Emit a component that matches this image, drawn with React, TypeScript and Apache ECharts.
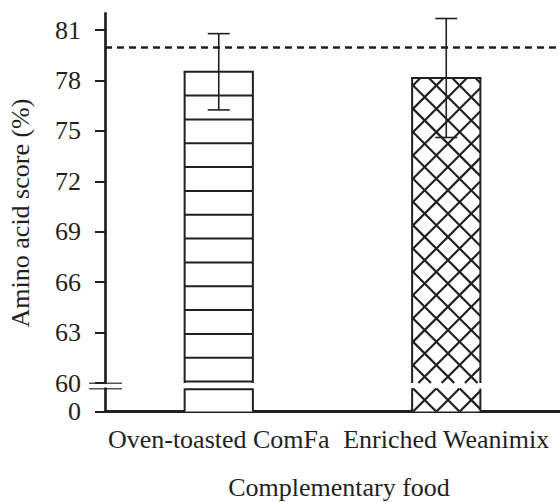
import React, { useEffect, useRef } from 'react';
import * as echarts from 'echarts';

const CATEGORIES = ['Oven-toasted ComFa', 'Enriched Weanimix'];
const MEANS = [78.52, 78.15];
const ERRORS = [2.27, 3.54];
const PATTERNS = ['horizontal', 'crosshatch'];
const REFERENCE_LINE = 80;
const UPPER_TICKS = [60, 63, 66, 69, 72, 75, 78, 81];
const LOWER_TICKS = [0];
const UPPER_MIN = 60;
const UPPER_MAX = 82;
const LOWER_MIN = 0;
const LOWER_MAX = 60;
const Y_NAME = 'Amino acid score (%)';
const X_NAME = 'Complementary food';

const INK = '#231f20';
const FONT = "'Liberation Serif', 'Times New Roman', Times, 'DejaVu Serif', serif";
const FS = 26;
const HSTEP = 23.83;
const DSTEP = 23.3;

function ln(x1: number, y1: number, x2: number, y2: number, w = 2) {
  return { type: 'line', shape: { x1, y1, x2, y2 }, style: { stroke: INK, lineWidth: w } };
}

const renderBar = (segment: 'upper' | 'lower') => (params: any, api: any) => {
  const idx = api.value(0);
  const val = api.value(1);
  const kind = PATTERNS[idx];
  const cs = params.coordSys;
  const base = segment === 'upper' ? UPPER_MIN : LOWER_MIN;
  const top = api.coord([idx, val]);
  const bot = api.coord([idx, base]);
  const w = api.size([1, 0])[0] * 0.3;
  const xc = top[0];
  const x0 = xc - w / 2;
  const x1 = xc + w / 2;
  const clamped = top[1] < cs.y;
  const y0 = clamped ? cs.y : top[1];
  const y1 = bot[1];
  const children: any[] = [];
  children.push({ type: 'rect', shape: { x: x0, y: y0, width: w, height: y1 - y0 }, style: { fill: '#fff' } });
  if (kind === 'horizontal') {
    const start = clamped ? y0 + 0.8 : y0 + HSTEP;
    for (let y = start; y <= y1 + 0.5; y += HSTEP) children.push(ln(x0, y, x1, y));
  } else {
    const ax = xc + 1.7;
    const ay = 400;
    const cA0 = ax - ay;
    const cB0 = ax + ay;
    const kA0 = Math.ceil((x0 - y1 - cA0) / DSTEP);
    const kA1 = Math.floor((x1 - y0 - cA0) / DSTEP);
    for (let k = kA0; k <= kA1; k++) {
      const c = cA0 + k * DSTEP;
      const xs = Math.max(x0, y0 + c);
      const xe = Math.min(x1, y1 + c);
      if (xe > xs) children.push(ln(xs, xs - c, xe, xe - c, 2.2));
    }
    const kB0 = Math.ceil((x0 + y0 - cB0) / DSTEP);
    const kB1 = Math.floor((x1 + y1 - cB0) / DSTEP);
    for (let k = kB0; k <= kB1; k++) {
      const c = cB0 + k * DSTEP;
      const xs = Math.max(x0, c - y1);
      const xe = Math.min(x1, c - y0);
      if (xe > xs) children.push(ln(xs, c - xs, xe, c - xe, 2.2));
    }
  }
  children.push(ln(x0, y0, x0, y1), ln(x1, y0, x1, y1));
  if (!clamped) children.push(ln(x0 - 1, y0, x1 + 1, y0));
  return { type: 'group', children };
};

const renderError = (_params: any, api: any) => {
  const idx = api.value(0);
  const m = api.value(1);
  const e = api.value(2);
  const hi = api.coord([idx, m + e]);
  const lo = api.coord([idx, m - e]);
  const cap = 11;
  return {
    type: 'group',
    children: [
      ln(hi[0], hi[1], lo[0], lo[1], 1.6),
      ln(hi[0] - cap, hi[1], hi[0] + cap, hi[1], 1.6),
      ln(lo[0] - cap, lo[1], lo[0] + cap, lo[1], 1.6),
    ],
  };
};

const labelStyle = { fontFamily: FONT, fontSize: FS, color: INK };

export default function App() {
  const ref = useRef<HTMLDivElement>(null);
  useEffect(() => {
    if (!ref.current) return;
    const chart = echarts.init(ref.current, undefined, { renderer: 'svg' });
    const barData = CATEGORIES.map((_, i) => [i, MEANS[i]]);
    const errData = CATEGORIES.map((_, i) => [i, MEANS[i], ERRORS[i]]);
    chart.setOption({
      animation: false,
      backgroundColor: '#fff',
      textStyle: { fontFamily: FONT },
      grid: [
        { left: 105, right: 0, top: 13.3, bottom: 119, outerBoundsMode: 'none', containLabel: false },
        { left: 105, right: 0, top: 388.5, bottom: 90.5, outerBoundsMode: 'none', containLabel: false },
      ],
      xAxis: [
        { type: 'category', gridIndex: 0, data: CATEGORIES, show: false },
        {
          type: 'category',
          gridIndex: 1,
          data: CATEGORIES,
          axisLine: { show: true, lineStyle: { color: INK, width: 3 } },
          axisTick: { show: false },
          axisLabel: { ...labelStyle, margin: 15, interval: 0 },
          splitLine: { show: false },
        },
      ],
      yAxis: [
        {
          type: 'value',
          gridIndex: 0,
          min: UPPER_MIN,
          max: UPPER_MAX,
          interval: 3,
          axisLine: { show: true, lineStyle: { color: INK, width: 2.7 } },
          axisTick: { show: true, length: 10, lineStyle: { color: INK, width: 2 }, customValues: UPPER_TICKS },
          axisLabel: { ...labelStyle, margin: 24, customValues: UPPER_TICKS },
          splitLine: { show: false },
        },
        {
          type: 'value',
          gridIndex: 1,
          min: LOWER_MIN,
          max: LOWER_MAX,
          axisLine: { show: true, lineStyle: { color: INK, width: 2.7 } },
          axisTick: { show: true, length: 10, lineStyle: { color: INK, width: 2 }, customValues: LOWER_TICKS },
          axisLabel: { ...labelStyle, margin: 24, customValues: LOWER_TICKS },
          splitLine: { show: false },
        },
      ],
      series: [
        {
          type: 'custom',
          xAxisIndex: 0,
          yAxisIndex: 0,
          data: barData,
          encode: { x: 0, y: 1 },
          renderItem: renderBar('upper'),
          markLine: {
            silent: true,
            symbol: ['none', 'none'],
            label: { show: false },
            lineStyle: { type: [7, 5], width: 2.5, color: INK },
            data: [{ yAxis: REFERENCE_LINE }],
          },
          z: 2,
        },
        {
          type: 'custom',
          xAxisIndex: 1,
          yAxisIndex: 1,
          data: barData,
          encode: { x: 0, y: 1 },
          renderItem: renderBar('lower'),
          z: 2,
        },
        {
          type: 'custom',
          xAxisIndex: 0,
          yAxisIndex: 0,
          data: errData,
          encode: { x: 0, y: [1] },
          renderItem: renderError,
          z: 5,
        },
      ],
      graphic: [
        {
          type: 'text',
          x: 20,
          y: 213,
          rotation: Math.PI / 2,
          style: { text: Y_NAME, fontFamily: FONT, fontSize: FS, fill: INK, textAlign: 'center', textVerticalAlign: 'middle' },
        },
        {
          type: 'text',
          x: 339,
          y: 487.5,
          style: { text: X_NAME, fontFamily: FONT, fontSize: FS, fill: INK, textAlign: 'center', textVerticalAlign: 'middle' },
        },
        { type: 'line', shape: { x1: 89, y1: 383.3, x2: 122, y2: 383.3 }, style: { stroke: '#555', lineWidth: 1.5 } },
        { type: 'line', shape: { x1: 89, y1: 388.7, x2: 122, y2: 388.7 }, style: { stroke: '#555', lineWidth: 1.5 } },
      ],
    });
    return () => chart.dispose();
  }, []);
  return <div ref={ref} style={{ position: 'absolute', left: 0, top: 0, width: 560, height: 502 }} />;
}
